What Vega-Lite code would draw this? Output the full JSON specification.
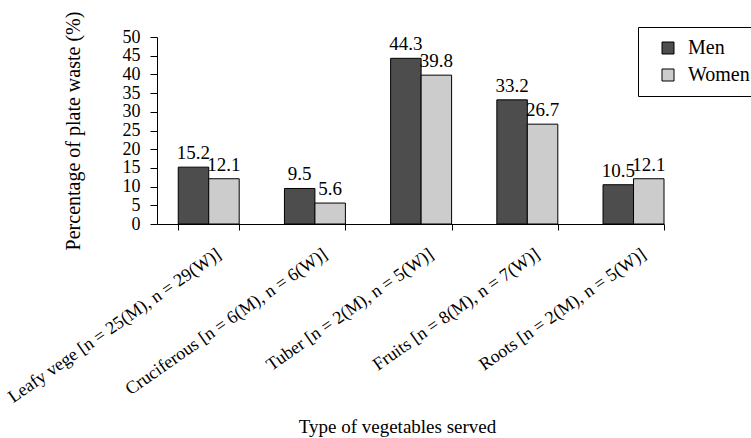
{
  "$schema": "https://vega.github.io/schema/vega-lite/v6.json",
  "autosize": "none",
  "width": 507,
  "height": 187,
  "padding": {"left": 157, "top": 37, "right": 87, "bottom": 214},
  "background": "white",
  "config": {
    "view": {"stroke": null},
    "font": "'Liberation Serif', 'DejaVu Serif', serif",
    "axis": {"labelFont": "'Liberation Serif', 'DejaVu Serif', serif", "titleFont": "'Liberation Serif', 'DejaVu Serif', serif"},
    "legend": {"labelFont": "'Liberation Serif', 'DejaVu Serif', serif", "titleFont": "'Liberation Serif', 'DejaVu Serif', serif"},
    "text": {"font": "'Liberation Serif', 'DejaVu Serif', serif"}
  },
  "data": {
    "values": [
      {"category": "Leafy vege [n = 25(M), n = 29(W)]", "sex": "Men", "value": 15.2},
      {"category": "Leafy vege [n = 25(M), n = 29(W)]", "sex": "Women", "value": 12.1},
      {"category": "Cruciferous [n = 6(M), n = 6(W)]", "sex": "Men", "value": 9.5},
      {"category": "Cruciferous [n = 6(M), n = 6(W)]", "sex": "Women", "value": 5.6},
      {"category": "Tuber [n = 2(M), n = 5(W)]", "sex": "Men", "value": 44.3},
      {"category": "Tuber [n = 2(M), n = 5(W)]", "sex": "Women", "value": 39.8},
      {"category": "Fruits [n = 8(M), n = 7(W)]", "sex": "Men", "value": 33.2},
      {"category": "Fruits [n = 8(M), n = 7(W)]", "sex": "Women", "value": 26.7},
      {"category": "Roots [n = 2(M), n = 5(W)]", "sex": "Men", "value": 10.5},
      {"category": "Roots [n = 2(M), n = 5(W)]", "sex": "Women", "value": 12.1}
    ]
  },
  "encoding": {
    "x": {
      "field": "category",
      "type": "nominal",
      "sort": null,
      "scale": {"paddingInner": 0.426, "paddingOuter": 0.1, "align": 1},
      "axis": {
        "title": "Type of vegetables served",
        "titleFontSize": 19,
        "titleFontWeight": "normal",
        "titleColor": "black",
        "titleX": 240,
        "titleY": 208,
        "titleAlign": "center",
        "titleBaseline": "alphabetic",
        "labelAngle": -35,
        "labelAlign": "right",
        "labelBaseline": "top",
        "labelFontSize": 18,
        "labelColor": "black",
        "labelOffset": 5,
        "labelPadding": 15,
        "labelLimit": 500,
        "labelOverlap": false,
        "tickBand": "extent",
        "tickSize": 6,
        "tickColor": "black",
        "domainColor": "black",
        "grid": false
      }
    },
    "xOffset": {
      "field": "sex",
      "type": "nominal",
      "sort": ["Men", "Women"],
      "scale": {"paddingInner": 0, "paddingOuter": 0}
    },
    "y": {
      "field": "value",
      "type": "quantitative",
      "scale": {"domain": [0, 50], "nice": false},
      "axis": {
        "title": "Percentage of plate waste (%)",
        "titleFontSize": 20,
        "titleFontWeight": "normal",
        "titleColor": "black",
        "titleX": -78,
        "titleBaseline": "alphabetic",
        "values": [0, 5, 10, 15, 20, 25, 30, 35, 40, 45, 50],
        "labelOverlap": false,
        "labelFontSize": 18,
        "labelColor": "black",
        "labelPadding": 10,
        "tickSize": 7,
        "tickColor": "black",
        "domainColor": "black",
        "grid": false
      }
    }
  },
  "layer": [
    {
      "mark": {"type": "bar", "stroke": "black", "strokeWidth": 1},
      "encoding": {
        "color": {
          "field": "sex",
          "type": "nominal",
          "scale": {"domain": ["Men", "Women"], "range": ["#4d4d4d", "#cccccc"]},
          "legend": {
            "title": null,
            "orient": "none",
            "legendX": 481,
            "legendY": -10,
            "strokeColor": "black",
            "fillColor": "white",
            "padding": 11,
            "symbolType": "square",
            "symbolSize": 144,
            "symbolStrokeColor": "black",
            "symbolStrokeWidth": 1,
            "symbolOffset": 9,
            "labelFontSize": 20,
            "labelColor": "black",
            "labelOffset": 10,
            "rowPadding": 7
          }
        }
      }
    },
    {
      "mark": {"type": "text", "baseline": "alphabetic", "dy": -8, "fontSize": 19, "color": "black"},
      "encoding": {
        "text": {"field": "value", "type": "quantitative", "format": ".1f"}
      }
    }
  ]
}
